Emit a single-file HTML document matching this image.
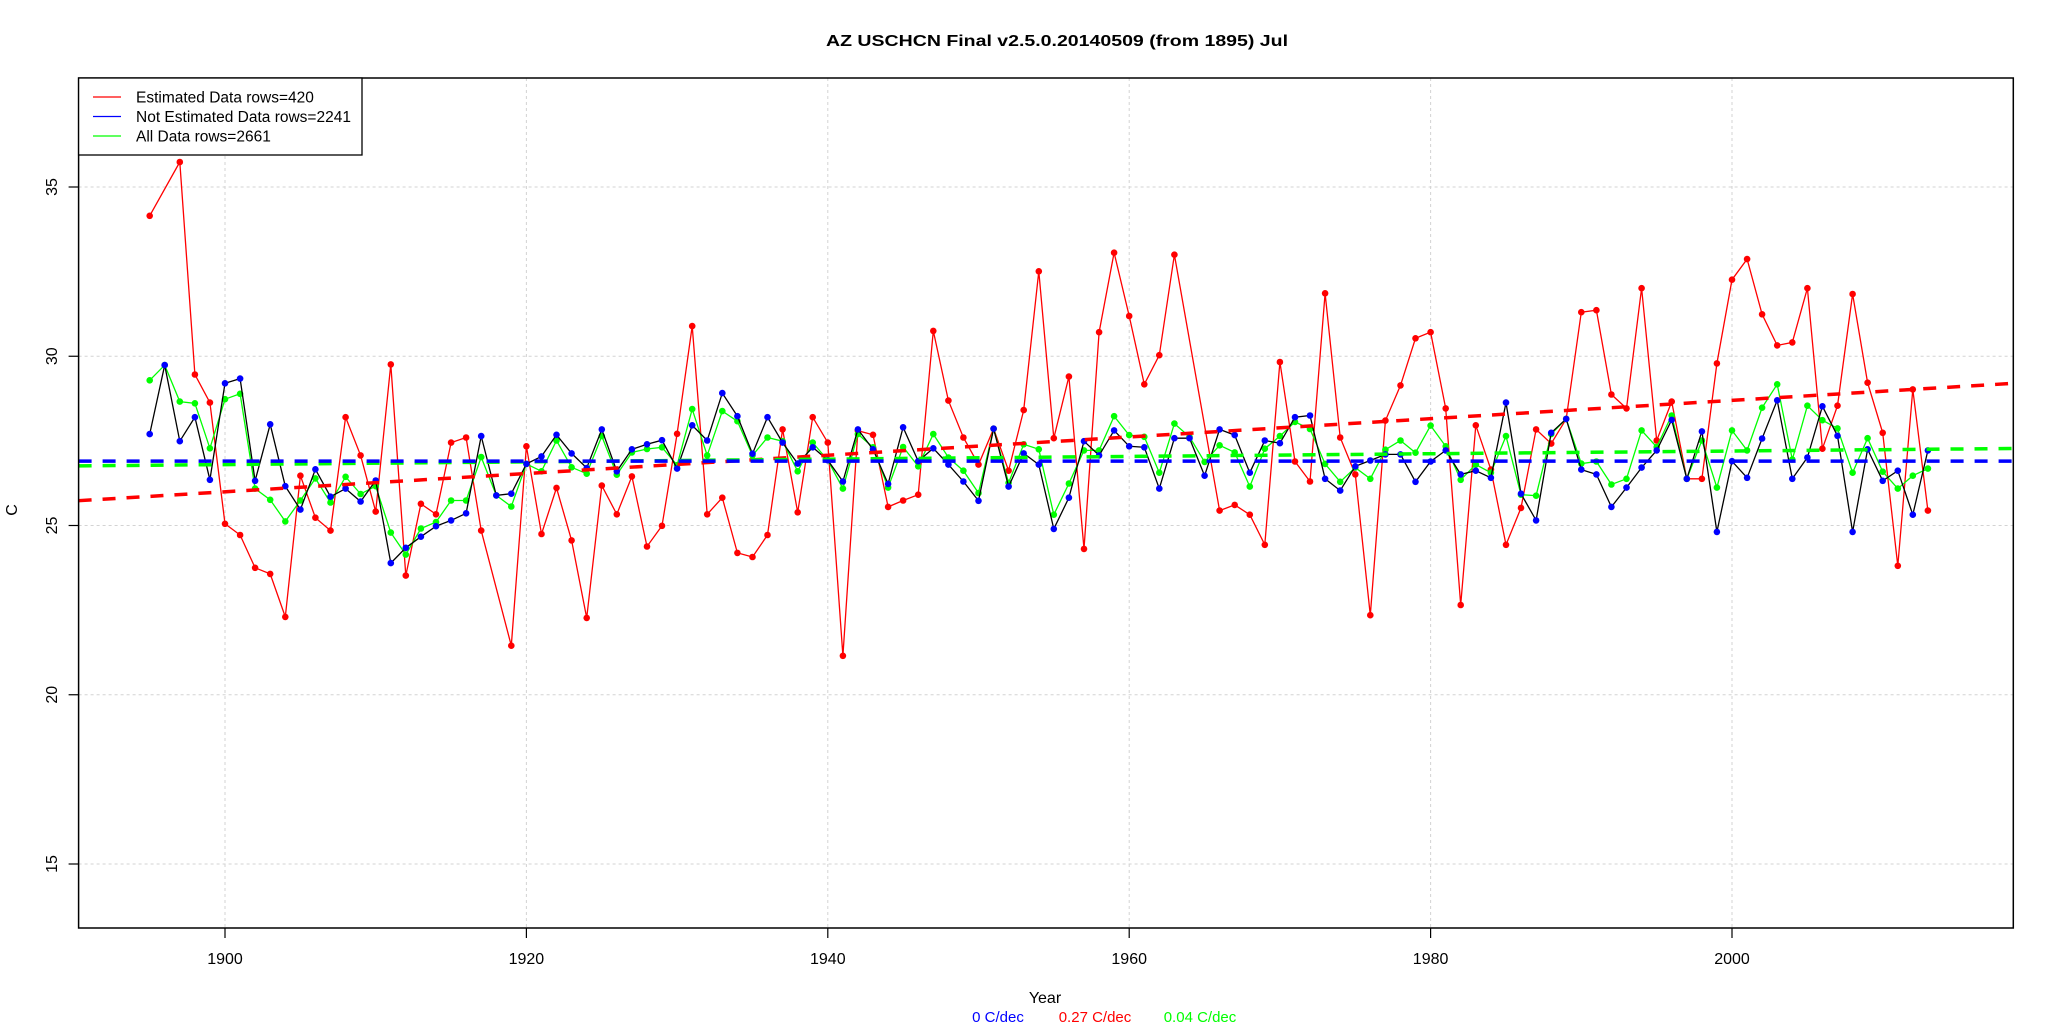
<!DOCTYPE html>
<html><head><meta charset="utf-8"><style>
html,body{margin:0;padding:0;background:#fff;}
svg{display:block;font-family:"Liberation Sans",Arial,sans-serif;}
</style></head><body>
<svg id="chart" width="2054" height="1026" viewBox="0 0 2054 1026" xmlns="http://www.w3.org/2000/svg">
<rect x="0" y="0" width="2054" height="1026" fill="#fff"/>
<text x="1057" y="46" text-anchor="middle" font-size="16" font-weight="bold" textLength="462" lengthAdjust="spacingAndGlyphs">AZ USCHCN Final v2.5.0.20140509 (from 1895) Jul</text>
<g id="grid"></g>
<g id="series"></g>
<g id="trends"></g>
<rect x="78.6" y="78" width="1934.7" height="850" fill="none" stroke="#000" stroke-width="1.5"/>
<g id="axes"></g>
<text x="0" y="0" transform="translate(17,510) rotate(-90)" text-anchor="middle" font-size="16">C</text>
<text x="1045" y="1003" text-anchor="middle" font-size="16">Year</text>
<g id="legend">
<rect x="78.6" y="78" width="283.4" height="77" fill="#fff" stroke="#000" stroke-width="1.3"/>
</g>
<g id="trendtext"></g>
</svg>
<script>
const firstYear = 1895;
const redVals = [34.15,null,35.74,29.46,28.63,25.05,24.72,23.75,23.57,22.30,
26.47,25.23,24.85,28.2,27.07,25.41,29.76,23.52,25.64,25.33,
27.45,27.6,24.85,null,21.45,27.34,24.75,26.11,24.56,22.27,
26.18,25.33,26.45,24.38,24.99,27.71,30.89,25.33,25.82,24.19,
24.07,24.72,27.84,25.39,28.2,27.45,21.15,27.8,27.68,25.55,
25.74,25.91,30.75,28.69,27.6,26.8,27.86,26.62,28.41,32.51,
27.58,29.4,24.31,30.71,33.06,31.19,29.17,30.03,33.0,null,
null,25.44,25.61,25.32,24.43,29.83,26.89,26.3,31.86,27.6,
26.51,22.35,28.1,29.14,30.53,30.71,28.46,22.65,27.96,26.65,
24.43,25.52,27.84,27.42,28.15,31.3,31.36,28.87,28.46,32.01,
27.51,28.66,26.38,26.38,29.79,32.26,32.87,31.24,30.32,30.41,
32.01,27.27,28.54,31.84,29.22,27.74,23.81,29.02,25.44];
const blueVals = [27.7,29.74,27.49,28.2,26.35,29.2,29.34,26.32,27.99,26.16,
25.47,26.66,25.85,26.09,25.71,26.33,23.89,24.34,24.67,24.98,
25.15,25.36,27.64,25.89,25.94,26.82,27.04,27.68,27.13,26.7,
27.84,26.6,27.25,27.4,27.52,26.68,27.96,27.51,28.91,28.23,
27.12,28.2,27.45,26.83,27.31,26.93,26.3,27.84,27.25,26.23,
27.9,26.9,27.28,26.8,26.3,25.73,27.86,26.15,27.13,26.8,
24.9,25.82,27.49,27.07,27.81,27.34,27.31,26.09,27.58,27.58,
26.47,27.84,27.67,26.56,27.51,27.43,28.2,28.25,26.38,26.03,
26.75,26.92,27.1,27.1,26.29,26.89,27.22,26.51,26.62,26.41,
28.63,25.94,25.15,27.74,28.15,26.65,26.51,25.55,26.12,26.71,
27.22,28.12,26.38,27.78,24.81,26.9,26.41,27.57,28.7,26.38,
27.01,28.52,27.65,24.81,27.25,26.32,26.62,25.32,27.22];
const greenVals = [29.29,29.74,28.66,28.61,27.28,28.73,28.89,26.09,25.76,25.12,
25.74,26.39,25.68,26.44,25.93,26.16,24.79,24.14,24.91,25.1,
25.74,25.74,27.02,25.89,25.56,26.82,26.6,27.51,26.72,26.53,
27.64,26.5,27.16,27.26,27.31,26.78,28.44,27.07,28.38,28.08,
27.07,27.6,27.49,26.6,27.45,26.93,26.09,27.7,27.31,26.12,
27.32,26.75,27.7,27.01,26.62,25.96,27.86,26.26,27.4,27.25,
25.32,26.24,27.22,27.22,28.23,27.67,27.62,26.56,28.01,27.62,
26.88,27.37,27.16,26.15,27.27,27.64,28.06,27.85,26.82,26.29,
26.71,26.38,27.24,27.51,27.15,27.95,27.34,26.35,26.8,26.56,
27.64,25.91,25.88,27.7,28.15,26.83,26.89,26.21,26.38,27.81,
27.32,28.25,26.38,27.51,26.12,27.81,27.22,28.48,29.17,26.95,
28.54,28.11,27.87,26.56,27.58,26.59,26.09,26.47,26.68];
const trendAt1895 = [26.9, 25.86, 26.78];   // blue, red, green
const trendPerYear = [0.0, 0.027, 0.004];
const trendLabels = ["0 C/dec", "0.27 C/dec", "0.04 C/dec"];
const xTicks = [1900, 1920, 1940, 1960, 1980, 2000];
const yTicks = [15, 20, 25, 30, 35];
const legendLabels = ["Estimated Data rows=420", "Not Estimated Data rows=2241", "All Data rows=2661"];

const NS = "http://www.w3.org/2000/svg";
const PL = 78.6, PR = 2013.3, PT = 78, PB = 928;
function xs(yr){ return 225 + (yr - 1900) * 15.07; }
function ys(v){ return 187 + (35 - v) * 33.85; }
function mk(tag, attrs, parent){
  const e = document.createElementNS(NS, tag);
  for (const k in attrs) e.setAttribute(k, attrs[k]);
  parent.appendChild(e); return e;
}
const grid = document.getElementById('grid');
const axes = document.getElementById('axes');
xTicks.forEach(t => {
  const g = mk('line', {x1:xs(t), x2:xs(t), y1:PT, y2:PB, stroke:'#d3d3d3', 'stroke-dasharray':'3 3', 'stroke-width':1}, grid);
  
  
  const tk = mk('line', {x1:xs(t), x2:xs(t), y1:PB, y2:PB+10, stroke:'#000', 'stroke-width':1.2}, axes);
  
  
  const lb = mk('text', {x:xs(t), y:964, 'text-anchor':'middle', 'font-size':16}, axes);
  lb.textContent = t;
  
  
});
yTicks.forEach(t => {
  const g = mk('line', {x1:PL, x2:PR, y1:ys(t), y2:ys(t), stroke:'#d3d3d3', 'stroke-dasharray':'3 3', 'stroke-width':1}, grid);
  
  
  const tk = mk('line', {x1:PL-10, x2:PL, y1:ys(t), y2:ys(t), stroke:'#000', 'stroke-width':1.2}, axes);
  
  
  const lb = mk('text', {x:0, y:0, transform:'translate(57,'+ys(t)+') rotate(-90)', 'text-anchor':'middle', 'font-size':16}, axes);
  lb.textContent = t;
  
  
});

const series = document.getElementById('series');
function drawSeries(vals, lineColor, ptColor, name){
  const g = mk('g', {}, series);
  
  
  const pts = [];
  vals.forEach((v,i) => { if (v !== null) pts.push([xs(firstYear+i), ys(v)]); });
  const pl = mk('polyline', {points: pts.map(p=>p[0].toFixed(1)+','+p[1].toFixed(1)).join(' '), fill:'none', stroke:lineColor, 'stroke-width':1.3}, g);
  
  
  pts.forEach(p => {
    const c = mk('circle', {cx:p[0].toFixed(1), cy:p[1].toFixed(1), r:3.3, fill:ptColor}, g);
    
    
  });
}
drawSeries(redVals, '#ff0000', '#ff0000', 'estimated-series');
drawSeries(greenVals, '#00ff00', '#00ff00', 'all-data-series');
drawSeries(blueVals, '#000000', '#0000ff', 'not-estimated-series');

const trends = document.getElementById('trends');
const trendColors = ['#0000ff', '#ff0000', '#00ff00'];
const yL = 1890.3, yR = 2018.7;
[1, 2, 0].forEach(k => {
  const v1 = trendAt1895[k] + trendPerYear[k]*(yL-1895);
  const v2 = trendAt1895[k] + trendPerYear[k]*(yR-1895);
  const l = mk('line', {x1:PL, x2:PR, y1:ys(v1), y2:ys(v2), stroke:trendColors[k], 'stroke-width':3.5, 'stroke-dasharray':'13 11'}, trends);
  
  
});

const legend = document.getElementById('legend');
const legColors = ['#ff0000', '#0000ff', '#00ff00'];
legendLabels.forEach((s,i) => {
  const y = 97 + i*19.5;
  const l = mk('line', {x1:93, x2:121, y1:y, y2:y, stroke:legColors[i], 'stroke-width':1.3}, legend);
  
  
  const t = mk('text', {x:136, y:y+5.5, 'font-size':15.5}, legend);
  t.textContent = s;
  
  
});

const tt = document.getElementById('trendtext');
const ttx = [998, 1095, 1200];
trendLabels.forEach((s,i) => {
  const t = mk('text', {x:ttx[i], y:1022, 'text-anchor':'middle', 'font-size':15, fill:trendColors[i]}, tt);
  t.textContent = s;
  
  
});
</script>
</body></html>
